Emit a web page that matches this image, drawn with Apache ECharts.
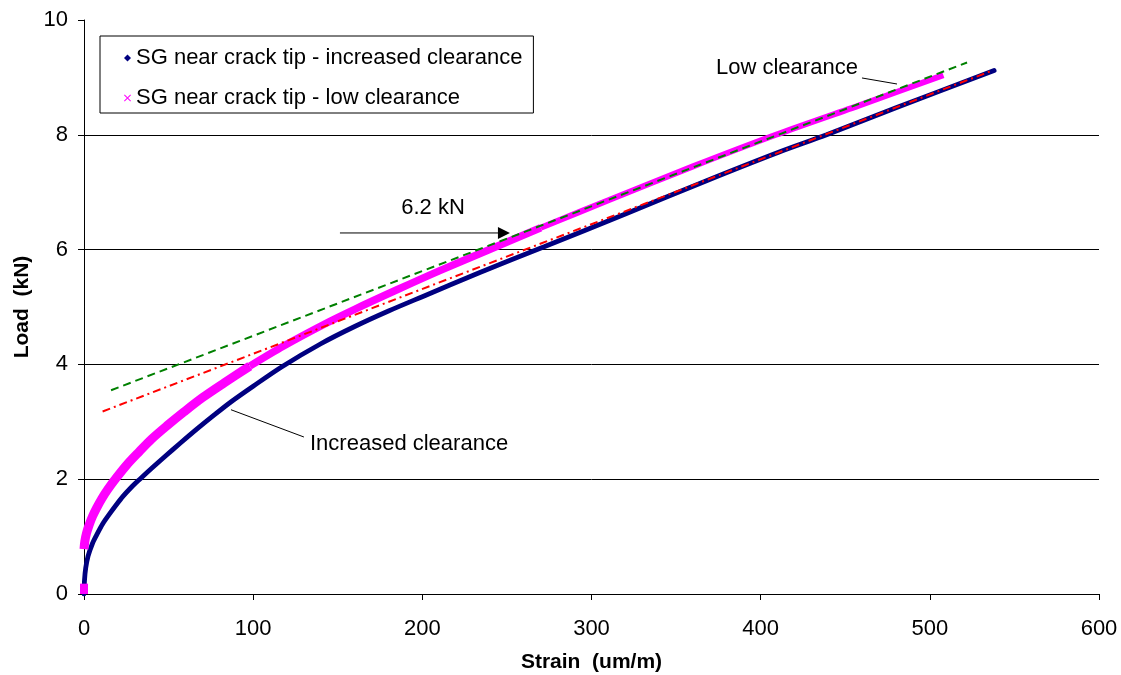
<!DOCTYPE html>
<html>
<head>
<meta charset="utf-8">
<title>Load vs strain near crack tip</title>
<script src="https://cdn.jsdelivr.net/npm/echarts@6.0.0/dist/echarts.min.js"></script>
<style>
html, body { margin: 0; padding: 0; background: #fff; }
#Chart { width: 1121px; height: 675px; }
</style>
</head>
<body>
<div id="Chart"></div>
<script>
// strain in um/m, load in kN
var incStrain = [0, 0.3, 1, 2.4, 5, 7.5, 11, 15, 19, 23, 28, 33, 40, 48, 57, 67, 77, 87, 100, 117, 140, 160, 180, 200, 234, 272, 320, 368, 411, 439, 480, 538];
var incLoad   = [0, 0.24, 0.45, 0.66, 0.88, 1.03, 1.22, 1.39, 1.55, 1.7, 1.86, 2.0, 2.19, 2.4, 2.63, 2.88, 3.12, 3.35, 3.62, 3.96, 4.36, 4.66, 4.93, 5.18, 5.6, 6.05, 6.62, 7.2, 7.7, 8.0, 8.47, 9.12];

var lowStubStrain = [0, 0];
var lowStubLoad   = [0, 0.18];
var lowStrain = [0, 0.5, 1.5, 3, 5, 7.5, 10.5, 14, 19, 25, 32, 40, 49, 59, 70, 83, 98, 118, 142, 160, 185, 210, 238, 270, 310, 360, 409, 460, 508];
var lowLoad   = [0.78, 0.92, 1.06, 1.2, 1.35, 1.5, 1.66, 1.82, 2.02, 2.24, 2.46, 2.7, 2.93, 3.17, 3.42, 3.68, 3.97, 4.32, 4.7, 4.96, 5.3, 5.63, 5.98, 6.38, 6.86, 7.45, 8.0, 8.53, 9.04];

// straight fits drawn on the plot
var lowFitStrain = [16, 522];
var lowFitLoad   = [3.55, 9.26];
var incFitStrain = [11, 537];
var incFitLoad   = [3.18, 9.12];

var xTicks = [0, 100, 200, 300, 400, 500, 600];
var yTicks = [0, 2, 4, 6, 8, 10];

var INC = 'SG near crack tip - increased clearance';
var LOW = 'SG near crack tip - low clearance';
var FONT = '"Liberation Sans", Arial, sans-serif';

function pairs(xs, ys) {
    return xs.map(function (x, i) { return [x, ys[i]]; });
}

// the low clearance band gets thinner as the points spread out
var lowPts = pairs(lowStrain, lowLoad);
var cut1 = lowStrain.indexOf(98);
var cut2 = lowStrain.indexOf(270);

function lowPiece(pts, width) {
    return {
        name: LOW, type: 'line', symbol: 'none', smooth: 0.3,
        data: pts,
        itemStyle: { color: '#ff00ff' },
        lineStyle: { color: '#ff00ff', width: width }
    };
}

var Chart = echarts.init(document.getElementById('Chart'));

var ChartOption = {
    animation: false,
    backgroundColor: '#fff',
    grid: { left: 84, right: 22, top: 20, bottom: 81, outerBoundsMode: 'none' },
    legend: {
        orient: 'vertical',
        left: 100,
        top: 36,
        padding: [11, 11, 4, 24],
        itemGap: 18,
        itemWidth: 7,
        itemHeight: 7,
        borderColor: '#000',
        borderWidth: 1,
        backgroundColor: '#fff',
        textStyle: { fontFamily: FONT, fontSize: 22, color: '#000', lineHeight: 22 },
        data: [
            { name: INC, icon: 'diamond', itemStyle: { color: '#000080' } },
            { name: LOW, icon: 'path://M0,1L1,0L5,4L9,0L10,1L6,5L10,9L9,10L5,6L1,10L0,9L4,5Z', itemStyle: { color: '#ff00ff' } }
        ]
    },
    xAxis: {
        type: 'value',
        min: xTicks[0],
        max: xTicks[xTicks.length - 1],
        interval: 100,
        name: 'Strain  (um/m)',
        nameLocation: 'middle',
        nameGap: 58,
        nameTextStyle: { fontFamily: FONT, fontSize: 21, fontWeight: 'bold', color: '#000' },
        axisLine: { show: true, onZero: false, lineStyle: { color: '#000', width: 1 } },
        axisTick: { show: true, length: 6, lineStyle: { color: '#000' } },
        axisLabel: { fontFamily: FONT, fontSize: 22, color: '#000', margin: 24 },
        splitLine: { show: false }
    },
    yAxis: {
        type: 'value',
        min: yTicks[0],
        max: yTicks[yTicks.length - 1],
        interval: 2,
        name: 'Load  (kN)',
        nameLocation: 'middle',
        nameGap: 34,
        nameRotate: 90,
        nameTextStyle: { fontFamily: FONT, fontSize: 21, fontWeight: 'bold', color: '#000' },
        axisLine: { show: true, onZero: false, lineStyle: { color: '#000', width: 1 } },
        axisTick: { show: true, length: 6, lineStyle: { color: '#000' } },
        axisLabel: { fontFamily: FONT, fontSize: 22, color: '#000', margin: 16 },
        splitLine: { show: true, showMaxLine: false, lineStyle: { color: '#000', width: 1 } }
    },
    series: [
        {
            name: INC, type: 'line', symbol: 'none', smooth: 0.3,
            data: pairs(incStrain, incLoad),
            itemStyle: { color: '#000080' },
            lineStyle: { color: '#000080', width: 4.8, cap: 'round' }
        },
        lowPiece(pairs(lowStubStrain, lowStubLoad), 8),
        lowPiece(lowPts.slice(0, cut1 + 1), 9),
        lowPiece(lowPts.slice(cut1, cut2 + 1), 7.5),
        lowPiece(lowPts.slice(cut2), 6),
        {
            name: 'fit increased', type: 'line', symbol: 'none',
            data: pairs(incFitStrain, incFitLoad),
            lineStyle: { color: '#ff0000', width: 2, type: [8, 4, 2, 4] }
        },
        {
            name: 'fit low', type: 'line', symbol: 'none',
            data: pairs(lowFitStrain, lowFitLoad),
            lineStyle: { color: '#008000', width: 2, type: [8, 5] }
        }
    ]
};

Chart.setOption(ChartOption);

// annotations, anchored in data coordinates
function px(x, y) {
    return Chart.convertToPixel({ gridIndex: 0 }, [x, y]);
}
function label(text, at) {
    var p = px(at[0], at[1]);
    return {
        type: 'text', x: p[0], y: p[1], z: 100,
        style: { text: text, fontFamily: FONT, fontSize: 22, fill: '#000', align: 'left', verticalAlign: 'middle' }
    };
}
function leader(a, b) {
    var p = px(a[0], a[1]), q = px(b[0], b[1]);
    return {
        type: 'line', z: 100,
        shape: { x1: p[0], y1: p[1], x2: q[0], y2: q[1] },
        style: { stroke: '#000', lineWidth: 1 }
    };
}

var tip = px(251.8, 6.29);
Chart.setOption({
    graphic: [
        label('Low clearance', [373.6, 9.16]),
        leader([459.9, 8.99], [480.6, 8.885]),
        label('6.2 kN', [187.5, 6.72]),
        leader([151.3, 6.29], [245.3, 6.29]),
        {
            type: 'polygon', z: 100,
            shape: { points: [[tip[0] - 12, tip[1] - 6], [tip[0], tip[1]], [tip[0] - 12, tip[1] + 6]] },
            style: { fill: '#000' }
        },
        label('Increased clearance', [133.6, 2.62]),
        leader([130, 2.735], [86.9, 3.21])
    ]
});

window.addEventListener("resize", function () {
    Chart.resize();
});
</script>
</body>
</html>
